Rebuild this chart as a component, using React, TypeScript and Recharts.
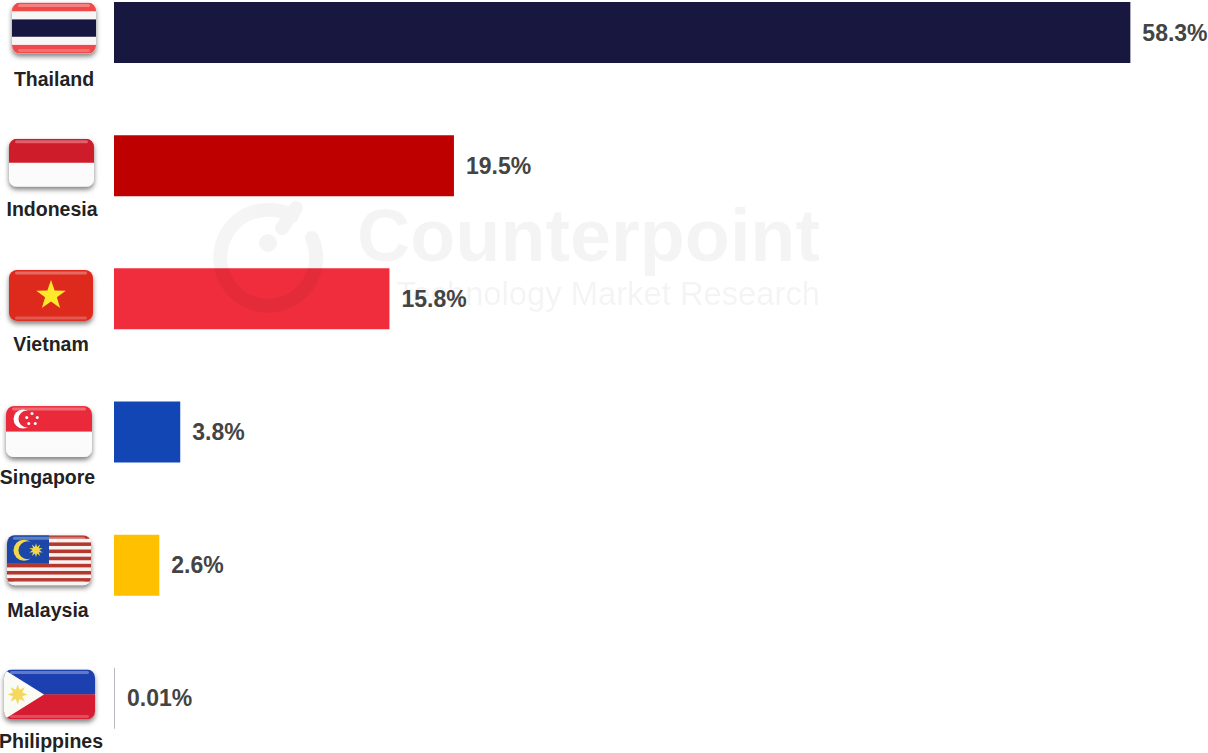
import React from "react";
import { BarChart, Bar, XAxis, YAxis, Cell, LabelList } from "recharts";

const countries = ["Thailand", "Indonesia", "Vietnam", "Singapore", "Malaysia", "Philippines"];
const shares = [58.3, 19.5, 15.8, 3.8, 2.6, 0.01];
const barColors = ["#17173f", "#bf0000", "#ef2d3c", "#1346b5", "#ffc000", "#b8bcc0"];

const chartData = countries.map((country, i) => ({ country, share: shares[i] }));

// Layout of each hand-placed flag and caption, relative to its row centre
const tickLayout: Record<string, { x: number; w: number; top: number; h: number; lx: number; ly: number }> = {
  Thailand: { x: 12, w: 84, top: -30, h: 51, lx: 54, ly: 53 },
  Indonesia: { x: 9, w: 85, top: -27, h: 48, lx: 52, ly: 50 },
  Vietnam: { x: 9, w: 84, top: -29, h: 51, lx: 51, ly: 52 },
  Singapore: { x: 6, w: 86, top: -26, h: 51, lx: 47.5, ly: 52 },
  Malaysia: { x: 7, w: 84, top: -30, h: 50, lx: 48, ly: 52 },
  Philippines: { x: 4, w: 91, top: -29, h: 50, lx: 51, ly: 50 },
};

const starPoints = (cx: number, cy: number, R: number, r: number, n = 5) => {
  const pts: string[] = [];
  for (let i = 0; i < n * 2; i++) {
    const rad = i % 2 === 0 ? R : r;
    const a = -Math.PI / 2 + (i * Math.PI) / n;
    pts.push(`${cx + rad * Math.cos(a)},${cy + rad * Math.sin(a)}`);
  }
  return pts.join(" ");
};

const FlagArt = ({ name, w, h }: { name: string; w: number; h: number }) => {
  if (name === "Thailand") {
    return (
      <>
        <rect width={w} height={h} fill="#f9f6f6" />
        <rect width={w} height={h * 0.17} fill="#f04a4a" />
        <rect y={h * 0.83} width={w} height={h * 0.17} fill="#f04a4a" />
        <rect y={h * 0.33} width={w} height={h * 0.34} fill="#17173f" />
      </>
    );
  }
  if (name === "Indonesia") {
    return (
      <>
        <rect width={w} height={h} fill="#fbfbfb" />
        <rect width={w} height={h * 0.5} fill="#cf1c2c" />
      </>
    );
  }
  if (name === "Vietnam") {
    return (
      <>
        <rect width={w} height={h} fill="#dd2a1e" />
        <polygon points={starPoints(w / 2, h / 2, 15.5, 6.2)} fill="#fde92b" />
      </>
    );
  }
  if (name === "Singapore") {
    return (
      <>
        <rect width={w} height={h} fill="#fbfbfb" />
        <rect width={w} height={h * 0.5} fill="#ea2a3a" />
        <circle cx={17} cy={13} r={9.5} fill="#fff" />
        <circle cx={21} cy={13} r={8.5} fill="#ea2a3a" />
        {[0, 1, 2, 3, 4].map((i) => {
          const a = -Math.PI / 2 + (i * 2 * Math.PI) / 5;
          return <circle key={i} cx={26 + 5.5 * Math.cos(a)} cy={13 + 5.5 * Math.sin(a)} r={1.5} fill="#fff" />;
        })}
      </>
    );
  }
  if (name === "Malaysia") {
    const stripe = h / 14;
    return (
      <>
        <rect width={w} height={h} fill="#f8f2f0" />
        {[0, 2, 4, 6, 8, 10, 12].map((i) => (
          <rect key={i} y={i * stripe} width={w} height={stripe} fill="#b5382f" />
        ))}
        <rect width={w / 2} height={stripe * 8} fill="#1c47a8" />
        <circle cx={17} cy={15} r={10.5} fill="#f2d84a" />
        <circle cx={20.5} cy={15} r={9} fill="#1c47a8" />
        <polygon points={starPoints(29, 15, 7, 3.5, 10)} fill="#f2d84a" />
      </>
    );
  }
  return (
    <>
      <rect width={w} height={h / 2} fill="#1c3fb0" />
      <rect y={h / 2} width={w} height={h / 2} fill="#d51f30" />
      <polygon points={`0,0 ${w * 0.44},${h / 2} 0,${h}`} fill="#fbfbf6" />
      <polygon points={starPoints(w * 0.15, h / 2, 10, 5, 8)} fill="#f5d95c" />
    </>
  );
};

const FlagTick = ({ y, payload }: any) => {
  const name: string = payload.value;
  const l = tickLayout[name];
  const clipId = `clip-${name}`;
  return (
    <g>
      <g transform={`translate(${l.x},${y + l.top})`} filter="url(#softFlag)">
        <clipPath id={clipId}>
          <rect width={l.w} height={l.h} rx={8} />
        </clipPath>
        <g clipPath={`url(#${clipId})`}>
          <FlagArt name={name} w={l.w} h={l.h} />
          <rect x={6} y={1.5} width={l.w - 12} height={3} rx={1.5} fill="#fff" opacity={0.3} />
          <rect x={6} y={l.h - 4.5} width={l.w - 12} height={3} rx={1.5} fill="#fff" opacity={0.22} />
        </g>
      </g>
      <text
        x={l.lx}
        y={y + l.ly}
        textAnchor="middle"
        fontFamily="'Liberation Sans', Arial, sans-serif"
        fontWeight={700}
        fontSize={19.5}
        fill="#222"
      >
        {name}
      </text>
    </g>
  );
};

export default function App() {
  return (
    <div style={{ position: "absolute", left: 0, top: 0, width: 1208, height: 753, overflow: "hidden", background: "#fff" }}>
      <div style={{ position: "absolute", left: 0, top: -34 }}>
        <BarChart
          width={1208}
          height={799}
          data={chartData}
          layout="vertical"
          margin={{ top: 0, right: 48, bottom: 0, left: 0 }}
        >
          <defs>
            <filter id="softFlag" x="-15%" y="-15%" width="130%" height="140%">
              <feGaussianBlur in="SourceGraphic" stdDeviation="0.5" result="soft" />
              <feDropShadow in="soft" dx="0" dy="3" stdDeviation="2.5" floodColor="#000" floodOpacity="0.5" />
            </filter>
          </defs>
          <XAxis type="number" domain={[0, 60]} hide />
          <YAxis
            type="category"
            dataKey="country"
            width={114}
            axisLine={false}
            tickLine={false}
            interval={0}
            tick={<FlagTick />}
          />
          <Bar dataKey="share" barSize={61} minPointSize={1} isAnimationActive={false}>
            {chartData.map((d, i) => (
              <Cell key={d.country} fill={barColors[i]} />
            ))}
            <LabelList
              dataKey="share"
              position="right"
              offset={12}
              formatter={(v: number) => `${v}%`}
              fill="#444"
              fontFamily="'Liberation Sans', Arial, sans-serif"
              fontWeight={700}
              fontSize={23}
            />
          </Bar>
        </BarChart>
      </div>
      <svg width={1208} height={753} style={{ position: "absolute", left: 0, top: 0, pointerEvents: "none" }}>
        <g opacity={0.04} fontFamily="'Liberation Sans', Arial, sans-serif" fill="#000">
          <path
            d="M 292 216 A 48 48 0 1 0 312 238 M 296 208 L 282 228"
            fill="none"
            stroke="#000"
            strokeWidth={14}
            strokeLinecap="round"
          />
          <circle cx={268} cy={243} r={9} />
          <text x={357} y={261} fontSize={74} fontWeight={700} textLength={463} lengthAdjust="spacingAndGlyphs">
            Counterpoint
          </text>
          <text x={396} y={305} fontSize={33} textLength={424} lengthAdjust="spacingAndGlyphs">
            Technology Market Research
          </text>
        </g>
      </svg>
    </div>
  );
}
